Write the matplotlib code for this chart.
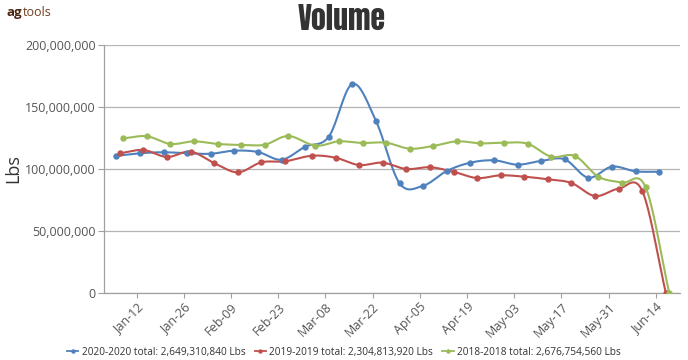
import numpy as np
import pandas as pd
import matplotlib
matplotlib.use("Agg")
import matplotlib.pyplot as plt
import matplotlib.dates as mdates
from matplotlib.ticker import FuncFormatter
from matplotlib.lines import Line2D
from matplotlib import font_manager

# ---------------- data ----------------
series_names = ["2020-2020 total: 2,649,310,840 Lbs",
                "2019-2019 total: 2,304,813,920 Lbs",
                "2018-2018 total: 2,676,754,560 Lbs"]
series_colors = ["#4f81bd", "#c0504d", "#9bbb59"]
series_starts = ["2020-01-06", "2019-01-07", "2018-01-08"]

vol_2020 = [110.7, 112.7, 113.5, 112.7, 112.3, 114.8, 113.7, 107.5, 118.0, 126.1,
            168.6, 138.7, 88.5, 86.5, 98.4, 105.1, 107.0, 103.5, 106.5, 107.8,
            93.0, 101.9, 98.1, 97.8]
vol_2019 = [112.7, 115.3, 109.7, 114.0, 104.8, 97.3, 105.4, 106.2, 110.7, 109.1,
            103.2, 105.1, 100.0, 101.4, 97.8, 92.7, 94.9, 93.8, 91.7, 88.7,
            78.2, 84.1, 82.3, 0.0]
vol_2018 = [124.7, 126.4, 120.2, 122.3, 120.2, 119.4, 119.6, 126.6, 118.8, 122.3,
            121.0, 121.2, 116.4, 118.6, 122.3, 120.7, 121.2, 120.4, 109.9, 110.5,
            93.8, 89.0, 85.2, 0.0]
series_values = [vol_2020, vol_2019, vol_2018]  # millions of Lbs

tick_dates = ["2020-01-12", "2020-01-26", "2020-02-09", "2020-02-23", "2020-03-08",
              "2020-03-22", "2020-04-05", "2020-04-19", "2020-05-03", "2020-05-17",
              "2020-05-31", "2020-06-14"]
y_ticks = [0, 50e6, 100e6, 150e6, 200e6]


def smooth(x, y, n=20):
    P = np.column_stack([np.asarray(x, float), np.asarray(y, float)])
    m = np.zeros_like(P)
    m[1:-1] = (P[2:] - P[:-2]) / 2.0
    m[0] = P[1] - P[0]
    m[-1] = P[-1] - P[-2]
    t = np.linspace(0, 1, n, endpoint=False)[:, None]
    h00 = 2 * t**3 - 3 * t**2 + 1
    h10 = t**3 - 2 * t**2 + t
    h01 = -2 * t**3 + 3 * t**2
    h11 = t**3 - t**2
    out = []
    for i in range(len(P) - 1):
        out.append(h00 * P[i] + h10 * m[i] + h01 * P[i + 1] + h11 * m[i + 1])
    out.append(P[-1:])
    out = np.vstack(out)
    return out[:, 0], out[:, 1]


# pick a condensed heavy font for the title if one is installed
installed = {(f.name, f.stretch) for f in font_manager.fontManager.ttflist}
installed_names = {n for n, _ in installed}
title_family, title_stretch = "Roboto", "normal"
for cand in ["Impact", "Anton", "Oswald", "Roboto Condensed", "Liberation Sans Narrow",
             "DejaVu Sans Condensed", "Noto Sans Condensed", "Open Sans Condensed"]:
    if cand in installed_names:
        title_family = cand
        break
else:
    for n, st in installed:
        if n in ("DejaVu Sans", "Noto Sans", "Open Sans", "Roboto") and st in ("condensed", "semi-condensed", "extra-condensed"):
            title_family, title_stretch = n, st
            break

W, H = 688, 360
fig = plt.figure(figsize=(W / 100, H / 100), dpi=100)
ax = fig.add_axes([104 / W, 1 - 293 / H, (680 - 104) / W, (293 - 45) / H])

for name, color, start, vals in zip(series_names, series_colors, series_starts, series_values):
    dates = pd.date_range(start, periods=len(vals), freq="7D")
    dates = [d.replace(year=2020) for d in dates]
    x = mdates.date2num(dates)
    y = np.array(vals) * 1e6
    xs, ys = smooth(x, y)
    ax.plot(xs, ys, color=color, lw=1.5, solid_capstyle="round", zorder=3)
    ax.plot(x, y, linestyle="none", marker="o", markersize=4.6, color=color,
            markeredgewidth=0, zorder=4)

x0 = mdates.date2num(pd.Timestamp("2020-01-01")) + 1.3
x1 = mdates.date2num(pd.Timestamp("2020-06-21")) + 0.2
ax.set_xlim(x0, x1)
ax.set_ylim(0, 200e6)

font = "Open Sans"
ax.set_yticks(y_ticks)
ax.yaxis.set_major_formatter(FuncFormatter(lambda v, p: f"{v:,.0f}"))
ax.set_xticks(mdates.date2num(pd.to_datetime(tick_dates)))
ax.xaxis.set_major_formatter(mdates.DateFormatter("%b-%d"))

ax.grid(axis="y", color="#b4b4b4", lw=0.9)
ax.set_axisbelow(True)
for s in ["top", "right"]:
    ax.spines[s].set_visible(False)
for s in ["left", "bottom"]:
    ax.spines[s].set_color("#a0a0a0")
    ax.spines[s].set_linewidth(0.9)
ax.tick_params(axis="y", length=4, width=0.8, color="#a0a0a0", pad=2,
               labelsize=9, labelcolor="#555555")
ax.tick_params(axis="x", length=3.5, width=0.8, color="#a0a0a0", pad=2,
               labelsize=9, labelcolor="#555555")
for lab in ax.get_yticklabels() + ax.get_xticklabels():
    lab.set_fontfamily(font)
for lab in ax.get_xticklabels():
    lab.set_rotation(45)
    lab.set_ha("right")
    lab.set_rotation_mode("anchor")

ax.set_ylabel("Lbs", fontsize=13, color="#333333", family=font, labelpad=4)
ax.yaxis.set_label_coords(-(104 - 22) / (680 - 104), 0.5)

# title, fitted to the reference width (~89 px)
title = fig.text(342 / W, 1 - 29.5 / H, "Volume", ha="center", va="baseline",
                 fontsize=24, fontweight="bold", color="#333333",
                 family=title_family, fontstretch=title_stretch)
renderer = fig.canvas.get_renderer()
tw = title.get_window_extent(renderer).width
title.set_fontsize(24 * 88 / tw)

logo_ag = fig.text(6.5 / W, 1 - 16 / H, "ag", ha="left", va="baseline", fontsize=9.5,
                   fontweight="bold", color="#4a2612", family=font)
bb = logo_ag.get_window_extent(renderer)
fig.text((bb.x1 + 0.5) / W, 1 - 16 / H, "tools", ha="left", va="baseline", fontsize=9,
         color="#6e3d1e", family=font)

handles = [Line2D([], [], color=c, lw=1.3, marker="o", markersize=3.2, markeredgewidth=0)
           for c in series_colors]
leg = fig.legend(handles, series_names, loc="center", bbox_to_anchor=(344 / W, 1 - 352 / H),
                 ncol=3, frameon=False, fontsize=7.3, handlelength=1.1, handletextpad=0.35,
                 columnspacing=0.9, borderpad=0, borderaxespad=0)
for t in leg.get_texts():
    t.set_fontfamily(font)
    t.set_color("#333333")

fig.savefig("out.png", dpi=100)
